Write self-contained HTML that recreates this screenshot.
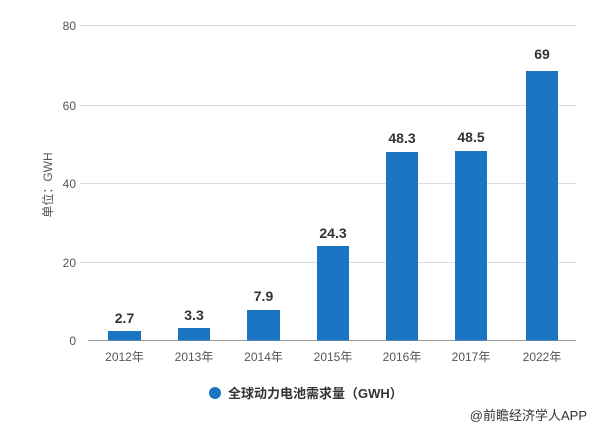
<!DOCTYPE html>
<html><head><meta charset="utf-8"><style>
body{margin:0;background:#fff;}
svg{display:block;font-family:"Liberation Sans","Noto Sans CJK SC",sans-serif;}
</style></head><body>
<svg width="613" height="433" xmlns="http://www.w3.org/2000/svg">
<g stroke="#dcdcdc" stroke-width="1">
<line x1="80" y1="25.5" x2="576" y2="25.5"/>
<line x1="80" y1="105.5" x2="576" y2="105.5"/>
<line x1="80" y1="183.5" x2="576" y2="183.5"/>
<line x1="80" y1="262.5" x2="576" y2="262.5"/>
</g>
<line x1="88" y1="340.5" x2="576" y2="340.5" stroke="#999"/>
<g fill="#555" font-size="12" text-anchor="end">
<text x="76" y="30">80</text><text x="76" y="110">60</text><text x="76" y="188">40</text><text x="76" y="267">20</text><text x="76" y="345">0</text>
</g>
<text transform="translate(52,185) rotate(-90)" font-size="12" fill="#555" text-anchor="middle">单位：GWH</text>
<g fill="#1a75c2">
<rect x="108" y="331" width="33" height="9.5"/>
<rect x="178" y="328" width="32" height="12.5"/>
<rect x="247" y="310" width="33" height="30.5"/>
<rect x="317" y="246" width="32" height="94.5"/>
<rect x="386" y="152" width="32" height="188.5"/>
<rect x="455" y="151" width="32" height="189.5"/>
<rect x="526" y="71" width="32" height="269.5"/>
</g>
<g fill="#333" font-size="14" font-weight="bold" text-anchor="middle">
<text x="124.5" y="323">2.7</text>
<text x="194" y="320">3.3</text>
<text x="263.5" y="301">7.9</text>
<text x="333" y="238">24.3</text>
<text x="402" y="143">48.3</text>
<text x="471" y="142">48.5</text>
<text x="542" y="59">69</text>
</g>
<g fill="#555" font-size="12" text-anchor="middle">
<text x="124.5" y="361">2012年</text><text x="194" y="361">2013年</text><text x="263.5" y="361">2014年</text><text x="333" y="361">2015年</text><text x="402" y="361">2016年</text><text x="471" y="361">2017年</text><text x="542" y="361">2022年</text>
</g>
<circle cx="215" cy="393" r="6" fill="#1a75c2"/>
<text x="228" y="398" font-size="13" font-weight="bold" fill="#333">全球动力电池需求量（GWH）</text>
<text x="587" y="420" font-size="13" fill="#333" text-anchor="end">@前瞻经济学人APP</text>
</svg>
</body></html>
